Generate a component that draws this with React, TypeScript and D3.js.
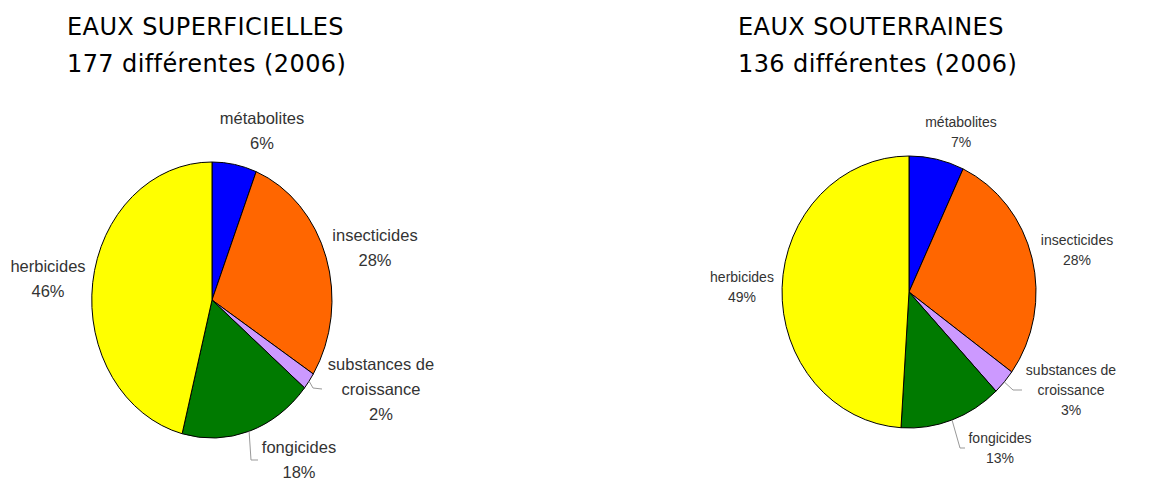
import React from 'react';
import * as d3 from 'd3';

// pesticide families, clockwise from 12 o'clock
const categories = ['métabolites', 'insecticides', 'substances de croissance', 'fongicides', 'herbicides'];
const surfaceValues = [6, 28, 2, 18, 46];
const groundValues = [7, 28, 3, 13, 49];
const colors = ['#0000ff', '#ff6600', '#cc99ff', '#007a00', '#ffff00'];
const labelLines = [['métabolites'], ['insecticides'], ['substances de', 'croissance'], ['fongicides'], ['herbicides']];

const W = 1161;
const H = 480;

type Panel = {
  title: string;
  subtitle: string;
  values: number[];
  titleX: number;
  cx: number;
  cy: number;
  rx: number;
  ry: number;
  fontSize: number;
  lineGap: number;
  labelPos: [number, number][];
  leaders: { [k: number]: [number, number][] };
};

const panels: Panel[] = [
  {
    title: 'EAUX SUPERFICIELLES',
    subtitle: '177 différentes (2006)',
    values: surfaceValues,
    titleX: 67,
    cx: 212, cy: 300, rx: 120, ry: 138,
    fontSize: 16.5, lineGap: 25,
    labelPos: [[50, -176], [163, -59], [169, 70], [87, 153], [-164, -28]],
    leaders: { 2: [[101, 88], [110, 89]], 3: [[39, 160], [46, 160]] },
  },
  {
    title: 'EAUX SOUTERRAINES',
    subtitle: '136 différentes (2006)',
    values: groundValues,
    titleX: 738,
    cx: 909, cy: 292, rx: 127, ry: 136,
    fontSize: 14, lineGap: 20,
    labelPos: [[52, -165], [168, -47], [162, 83], [91, 151], [-167, -10]],
    leaders: { 2: [[104, 98], [113, 98]], 3: [[51, 156], [56, 156]] },
  },
];

function PiePanel({ p }: { p: Panel }) {
  const pie = d3.pie<number>().sort(null).value(d => d);
  const arcs = pie(p.values);
  const arc = d3.arc<d3.PieArcDatum<number>>().innerRadius(0).outerRadius(1);
  const line = d3.line();

  return (
    <g>
      <text x={p.titleX} y={35} fontFamily="DejaVu Sans" fontSize={24} letterSpacing={0.4} fill="#000">{p.title}</text>
      <text x={p.titleX} y={72} fontFamily="DejaVu Sans" fontSize={24} letterSpacing={0.4} fill="#000">{p.subtitle}</text>
      <g transform={`translate(${p.cx},${p.cy}) scale(${p.rx},${p.ry})`}>
        {arcs.map((a, i) => (
          <path key={i} d={arc(a) || ''} fill={colors[i]} stroke="#000" strokeWidth={1} vectorEffect="non-scaling-stroke" />
        ))}
      </g>
      {arcs.map((a, i) => {
        const pts = p.leaders[i];
        if (!pts) return null;
        const mid = (a.startAngle + a.endAngle) / 2;
        const start: [number, number] = [p.cx + Math.sin(mid) * p.rx, p.cy - Math.cos(mid) * p.ry];
        const path = [start, ...pts.map(([dx, dy]) => [p.cx + dx, p.cy + dy] as [number, number])];
        return <path key={'l' + i} d={line(path) || ''} fill="none" stroke="#999" strokeWidth={1} />;
      })}
      {categories.map((c, i) => {
        const [dx, dy] = p.labelPos[i];
        const lines = [...labelLines[i], `${p.values[i]}%`];
        return (
          <text key={c} x={p.cx + dx} y={p.cy + dy} textAnchor="middle" fontFamily="Liberation Sans, Arial, sans-serif" fontSize={p.fontSize} fill="#333">
            {lines.map((t, j) => (
              <tspan key={j} x={p.cx + dx} dy={j === 0 ? 0 : p.lineGap}>{t}</tspan>
            ))}
          </text>
        );
      })}
    </g>
  );
}

export default function App() {
  return (
    <svg width={W} height={H} style={{ position: 'absolute', left: 0, top: 0, background: '#fff' }}>
      <rect width={W} height={H} fill="#fff" />
      {panels.map(p => <PiePanel key={p.title} p={p} />)}
    </svg>
  );
}
